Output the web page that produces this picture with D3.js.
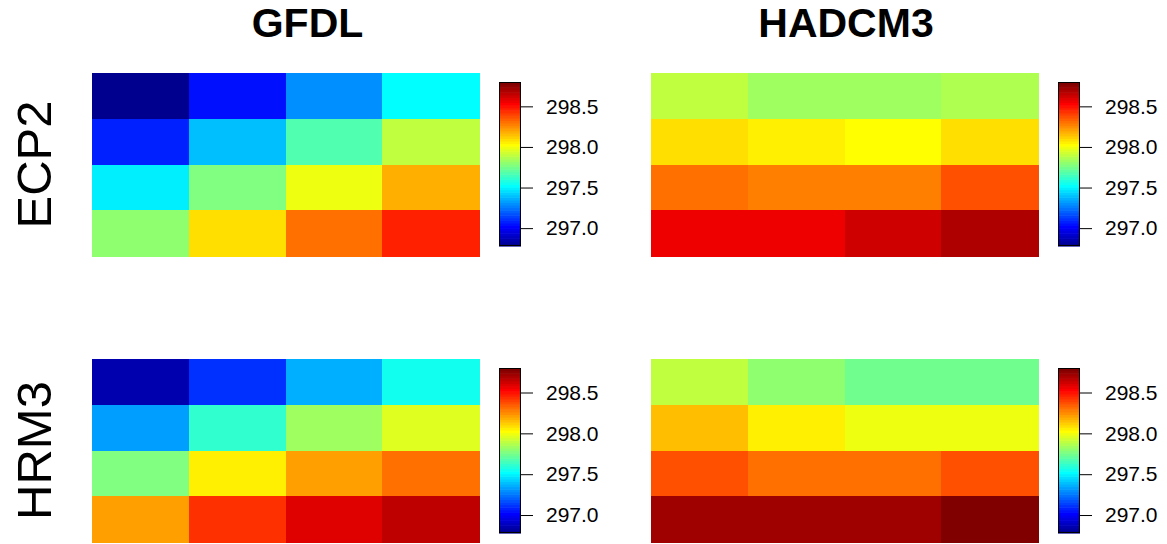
<!DOCTYPE html>
<html>
<head>
<meta charset="utf-8">
<script src="https://cdn.jsdelivr.net/npm/d3@7"></script>
<style>
  html, body { margin: 0; padding: 0; background: #fff; }
  svg { display: block; font-family: "Liberation Sans", Arial, Helvetica, sans-serif; }
</style>
</head>
<body>
<svg id="chart" width="1167" height="544"></svg>
<script>
// ---------------- data ----------------
const models = ["GFDL", "HADCM3"];
const scenarios = ["ECP2", "HRM3"];
const colTicks = [297.0, 297.5, 298.0, 298.5];

// 4x4 grids, rows listed top to bottom
const gfdlEcp2 = [
  [296.780, 297.048, 297.301, 297.522],
  [297.080, 297.395, 297.680, 297.900],
  [297.490, 297.774, 297.995, 298.185],
  [297.806, 298.090, 298.311, 298.469]
];
const hadcm3Ecp2 = [
  [297.900, 297.837, 297.837, 297.869],
  [298.090, 298.058, 298.027, 298.090],
  [298.311, 298.279, 298.279, 298.374],
  [298.563, 298.563, 298.626, 298.690]
];
const gfdlHrm3 = [
  [296.859, 297.111, 297.364, 297.553],
  [297.332, 297.616, 297.837, 297.964],
  [297.774, 298.058, 298.216, 298.311],
  [298.216, 298.437, 298.595, 298.658]
];
const hadcm3Hrm3 = [
  [297.900, 297.806, 297.743, 297.743],
  [298.153, 298.058, 297.995, 297.995],
  [298.374, 298.311, 298.311, 298.374],
  [298.721, 298.721, 298.721, 298.800]
];

// tim.colors(64) palette (style)
const timColors = ["#00008F","#00009F","#0000AF","#0000BF","#0000CF","#0000DF","#0000EF","#0000FF",
"#0010FF","#0020FF","#0030FF","#0040FF","#0050FF","#0060FF","#0070FF","#0080FF",
"#008FFF","#009FFF","#00AFFF","#00BFFF","#00CFFF","#00DFFF","#00EFFF","#00FFFF",
"#10FFEF","#20FFDF","#30FFCF","#40FFBF","#50FFAF","#60FF9F","#70FF8F","#80FF80",
"#8FFF70","#9FFF60","#AFFF50","#BFFF40","#CFFF30","#DFFF20","#EFFF10","#FFFF00",
"#FFEF00","#FFDF00","#FFCF00","#FFBF00","#FFAF00","#FF9F00","#FF8F00","#FF8000",
"#FF7000","#FF6000","#FF5000","#FF4000","#FF3000","#FF2000","#FF1000","#FF0000",
"#EF0000","#DF0000","#CF0000","#BF0000","#AF0000","#9F0000","#8F0000","#800000"];

// ---------------- layout ----------------
const panels = [
  { grid: gfdlEcp2,   col: 0, row: 0 },
  { grid: hadcm3Ecp2, col: 1, row: 0 },
  { grid: gfdlHrm3,   col: 0, row: 1 },
  { grid: hadcm3Hrm3, col: 1, row: 1 }
];
const colX = [[92, 479], [651, 1038]];
const rowY = [[73, 256], [359, 542]];
const cbX = [[499, 521], [1058, 1080]];
const cbY = [[82, 246], [368, 533]];
const titleX = [307.5, 846];

const allVals = panels.flatMap(p => p.grid.flat());
const zExt = d3.extent(allVals);
const color = d3.scaleQuantize().domain(zExt).range(timColors);

const svg = d3.select("#chart");

// titles
svg.selectAll("text.title").data(models).join("text")
  .attr("class", "title")
  .attr("x", (d, i) => titleX[i]).attr("y", 37)
  .attr("text-anchor", "middle")
  .attr("font-weight", "bold").attr("font-size", 41)
  .attr("fill", "#000")
  .text(d => d);

// row labels
svg.selectAll("text.rowlab").data(scenarios).join("text")
  .attr("class", "rowlab")
  .attr("transform", (d, i) => `translate(51,${(rowY[i][0] + rowY[i][1]) / 2}) rotate(-90)`)
  .attr("text-anchor", "middle")
  .attr("font-size", 49)
  .attr("fill", "#000")
  .text(d => d);

panels.forEach(p => {
  const nRows = p.grid.length, nCols = p.grid[0].length;
  const x = d3.scaleBand().domain(d3.range(nCols)).range(colX[p.col]).paddingInner(0);
  const y = d3.scaleBand().domain(d3.range(nRows)).range(rowY[p.row]).paddingInner(0);
  const g = svg.append("g");
  const cells = p.grid.flatMap((r, ri) => r.map((v, ci) => ({ r: ri, c: ci, v })));
  g.selectAll("rect").data(cells).join("rect")
    .attr("x", d => x(d.c)).attr("y", d => y(d.r))
    .attr("width", x.bandwidth() + 0.5).attr("height", y.bandwidth() + 0.5)
    .attr("fill", d => color(d.v))
    .attr("shape-rendering", "crispEdges");

  // colorbar
  const cy = d3.scaleLinear().domain(zExt).range([cbY[p.row][1], cbY[p.row][0]]);
  const cb = svg.append("g");
  const bins = timColors.map(c => {
    const [a, b] = color.invertExtent(c);
    return { c, a, b };
  });
  cb.selectAll("rect.bin").data(bins).join("rect")
    .attr("class", "bin")
    .attr("x", cbX[p.col][0])
    .attr("width", cbX[p.col][1] - cbX[p.col][0])
    .attr("y", d => cy(d.b))
    .attr("height", d => cy(d.a) - cy(d.b) + 0.6)
    .attr("fill", d => d.c);
  cb.append("rect")
    .attr("x", cbX[p.col][0] + 0.5).attr("y", cbY[p.row][0] + 0.5)
    .attr("width", cbX[p.col][1] - cbX[p.col][0] - 1)
    .attr("height", cbY[p.row][1] - cbY[p.row][0] - 1)
    .attr("fill", "none").attr("stroke", "#000").attr("stroke-width", 1);

  const axis = d3.axisRight(cy).tickValues(colTicks).tickFormat(d3.format(".1f"))
    .tickSize(12).tickPadding(13);
  const ag = svg.append("g")
    .attr("transform", `translate(${cbX[p.col][1]},0)`)
    .call(axis);
  ag.select(".domain").remove();
  ag.selectAll(".tick line").attr("stroke", "#000");
  ag.selectAll(".tick text").attr("font-size", 21).attr("fill", "#000")
    .attr("font-family", "'Liberation Sans', Arial, sans-serif");
});
</script>
</body>
</html>
